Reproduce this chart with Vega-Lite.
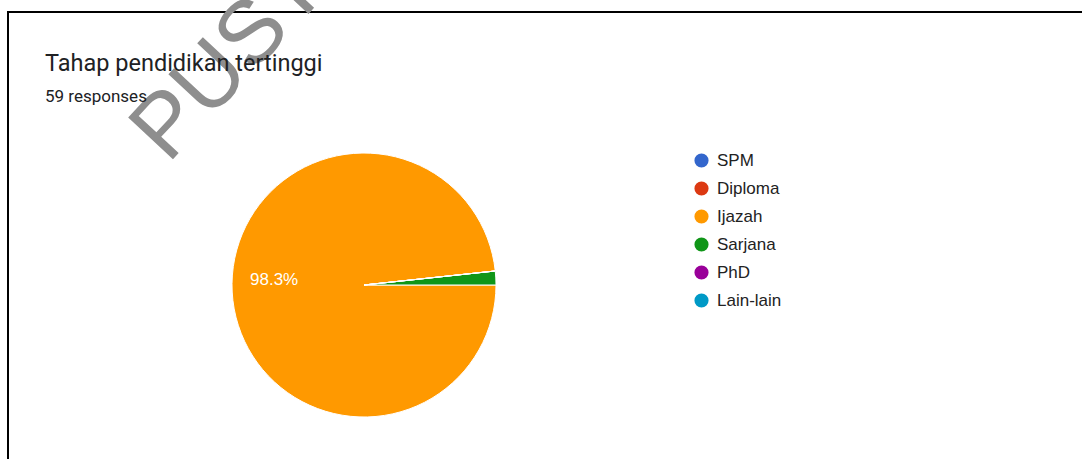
{
  "$schema": "https://vega.github.io/schema/vega-lite/v6.json",
  "autosize": {"type": "none"},
  "padding": {"left": 8, "top": 12, "right": 0, "bottom": 0},
  "background": "#ffffff",
  "width": 1080,
  "height": 460,
  "view": {"stroke": "#000000", "strokeWidth": 2},
  "config": {"font": "Roboto"},
  "title": {
    "text": "Tahap pendidikan tertinggi",
    "subtitle": "59 responses",
    "anchor": "start",
    "frame": "group",
    "font": "Roboto",
    "fontSize": 23.5,
    "fontWeight": "normal",
    "color": "#202124",
    "subtitleFont": "Roboto",
    "subtitleFontSize": 17,
    "subtitleColor": "#202124",
    "subtitlePadding": 13,
    "dx": 37,
    "dy": 167,
    "zindex": 2
  },
  "data": {
    "values": [
      {"question": "Tahap pendidikan tertinggi", "category": "SPM", "count": 0, "label": ""},
      {"question": "Tahap pendidikan tertinggi", "category": "Diploma", "count": 0, "label": ""},
      {"question": "Tahap pendidikan tertinggi", "category": "Ijazah", "count": 58, "label": "98.3%"},
      {"question": "Tahap pendidikan tertinggi", "category": "Sarjana", "count": 1, "label": ""},
      {"question": "Tahap pendidikan tertinggi", "category": "PhD", "count": 0, "label": ""},
      {"question": "Tahap pendidikan tertinggi", "category": "Lain-lain", "count": 0, "label": ""}
    ]
  },
  "encoding": {
    "x": {"field": "question", "type": "nominal", "scale": {"type": "point", "align": 0.32963}, "axis": null},
    "y": {
      "field": "question",
      "type": "nominal",
      "scale": {"type": "point", "align": 0.593478},
      "axis": {
        "title": "PUST",
        "labels": false,
        "ticks": false,
        "domain": false,
        "grid": false,
        "titleX": 159.5,
        "titleY": 152,
        "titleAngle": -47,
        "titleAlign": "left",
        "titleBaseline": "alphabetic",
        "titleFont": "Liberation Sans",
        "titleFontSize": 89,
        "titleFontWeight": "normal",
        "titleColor": "#8e8e8e",
        "titleOpacity": 1
      }
    },
    "theta": {"field": "count", "type": "quantitative", "stack": true, "scale": {"range": [1.5707963, 7.8539816]}},
    "color": {
      "field": "category",
      "type": "nominal",
      "scale": {
        "domain": ["SPM", "Diploma", "Ijazah", "Sarjana", "PhD", "Lain-lain"],
        "range": ["#3366cc", "#dc3912", "#ff9900", "#109618", "#990099", "#0099c6"]
      },
      "legend": {
        "title": null,
        "orient": "none",
        "legendX": 685,
        "legendY": 140,
        "symbolType": "circle",
        "symbolSize": 200,
        "symbolStrokeWidth": 0,
        "symbolOpacity": 1,
        "labelFont": "Liberation Sans",
        "labelFontSize": 17,
        "labelColor": "#222222",
        "labelOffset": 7,
        "rowPadding": 10,
        "padding": 0
      }
    }
  },
  "layer": [
    {"mark": {"type": "arc", "outerRadius": 132, "stroke": "#ffffff", "strokeWidth": 1}},
    {
      "mark": {"type": "text", "radius": 90, "font": "Liberation Sans", "fontSize": 17, "fill": "#ffffff", "align": "center", "baseline": "middle"},
      "encoding": {"text": {"field": "label"}, "color": {"value": "#ffffff"}}
    }
  ]
}
